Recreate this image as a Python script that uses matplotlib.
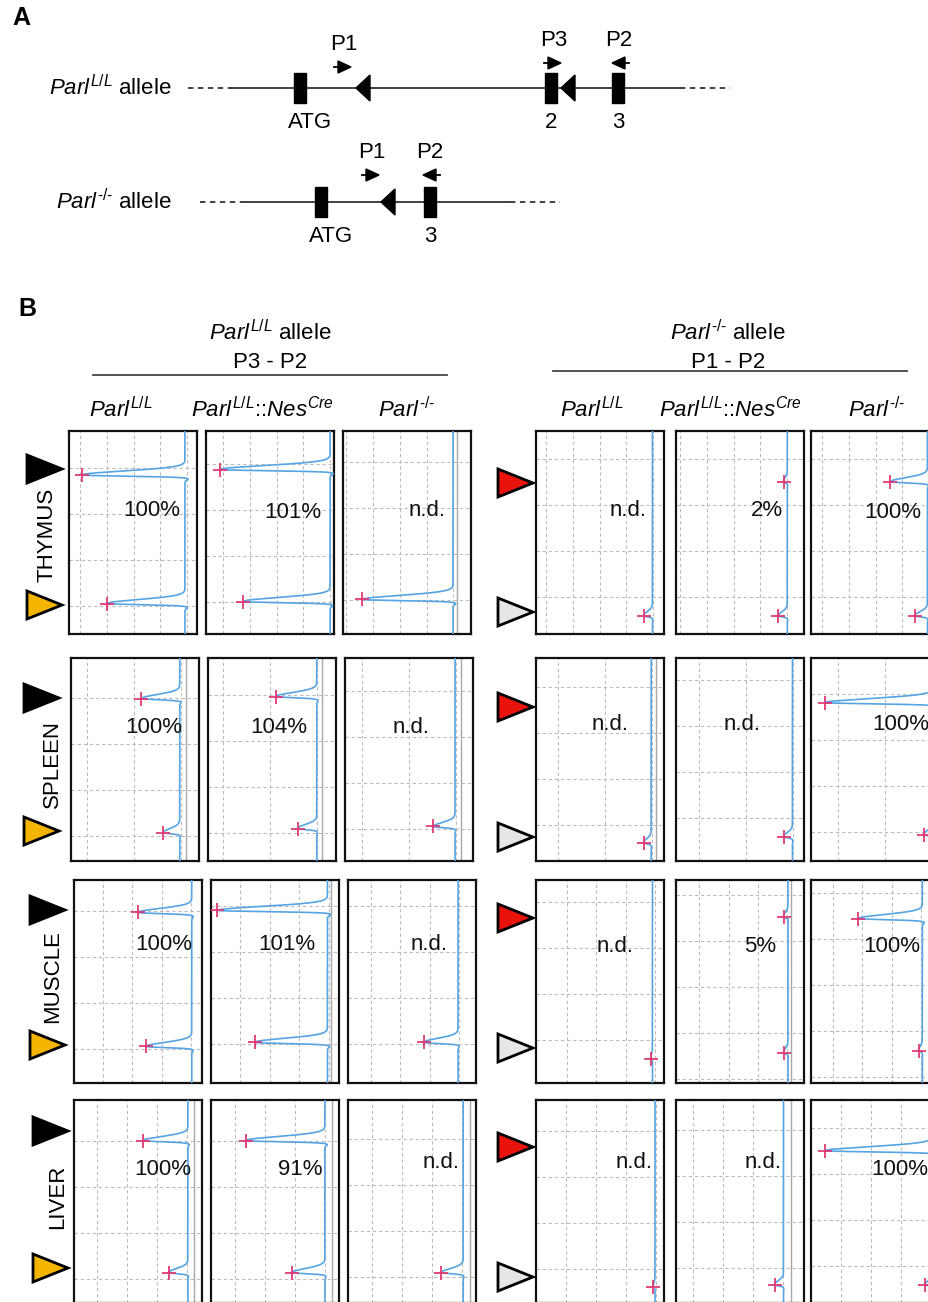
import numpy as np
import matplotlib
matplotlib.use("Agg")
import matplotlib.pyplot as plt
from matplotlib.patches import Polygon, Rectangle

plt.rcParams['font.family'] = ['Liberation Sans', 'DejaVu Sans']
plt.rcParams['mathtext.fontset'] = 'custom'
plt.rcParams['mathtext.rm'] = 'Liberation Sans'
plt.rcParams['mathtext.it'] = 'Liberation Sans:italic'

W, H = 929, 1302

# ---------------- data ----------------
tissues = ['THYMUS', 'SPLEEN', 'MUSCLE', 'LIVER']
genotypes = [r'$Parl^{L/L}$', r'$Parl^{L/L}\text{::}Nes^{Cre}$', r'$Parl^{\text{-/-}}$']

# percentages printed in each trace (left block P3-P2, right block P1-P2)
values_p3p2 = [['100%', '101%', 'n.d.'],
               ['100%', '104%', 'n.d.'],
               ['100%', '101%', 'n.d.'],
               ['100%', '91%', 'n.d.']]
values_p1p2 = [['n.d.', '2%', '100%'],
               ['n.d.', 'n.d.', '100%'],
               ['n.d.', '5%', '100%'],
               ['n.d.', 'n.d.', '100%']]

# traces: signal baseline and peak tips (fraction of panel width),
# peak migration position (fraction of panel height), None = no peak
baseline = [[0.906, 0.97, 0.86, 0.91, 0.87, 0.91],
            [0.85, 0.85, 0.86, 0.90, 0.91, 0.95],
            [0.92, 0.91, 0.86, 0.91, 0.875, 0.87],
            [0.89, 0.89, 0.90, 0.93, 0.84, 0.95]]
top_tip = [[0.10, 0.11, None, None, 0.84, 0.62],
           [0.55, 0.53, None, None, None, 0.11],
           [0.50, 0.05, None, None, 0.84, 0.37],
           [0.54, 0.27, None, None, None, 0.11]]
top_pos = [[0.217, 0.19, None, None, 0.25, 0.25],
           [0.20, 0.19, None, None, None, 0.22],
           [0.16, 0.15, None, None, 0.18, 0.19],
           [0.20, 0.20, None, None, None, 0.25]]
bot_tip = [[0.30, 0.29, 0.15, 0.84, 0.80, 0.81],
           [0.72, 0.70, 0.69, 0.84, 0.84, 0.88],
           [0.56, 0.34, 0.59, 0.895, 0.84, 0.84],
           [0.74, 0.63, 0.73, 0.915, 0.77, 0.89]]
bot_pos = [[0.85, 0.84, 0.83, 0.91, 0.91, 0.91],
           [0.86, 0.84, 0.83, 0.91, 0.88, 0.87],
           [0.82, 0.80, 0.80, 0.88, 0.85, 0.84],
           [0.85, 0.85, 0.85, 0.92, 0.91, 0.91]]

# panel A: gene structure
floxed_exons = [300, 551, 618]
floxed_exon_names = ['ATG', '2', '3']
floxed_lox = [356, 561]
floxed_primers = [('P1', 334, 67, 1), ('P3', 544, 63, 1), ('P2', 629, 63, -1)]
deleted_exons = [321, 430]
deleted_exon_names = ['ATG', '3']
deleted_lox = [381]
deleted_primers = [('P1', 362, 175, 1), ('P2', 440, 175, -1)]

# ---------------- layout (pixels) ----------------
PW, PH = 128, 203
left_x = [69, 71, 74, 74]
left_dx = [0, 137, 274]
right_x = [536, 676, 811]
row_y = [431, 658, 880, 1100]
grid_xstep = [26.8, 47, 29.5, 30]
grid_x0 = [[11, 17, 30, 10, 4, 11],
           [16, 15, 17, 22, 23, 27],
           [29, 29, 23, 31, 23, 22],
           [23, 24, 24, 30, 17, 30]]
grid_y0 = [[37, 33, 31, 28, 28, 28],
           [40, 37, 33, 29, 22, 36],
           [31, 26, 26, 22, 15, 13],
           [41, 41, 39, 31, 30, 28]]
rule_dx = [[None, None, 4, None, None, None],
           [6, 5, 6, 5, None, None],
           [None, 4, None, None, 3, None],
           [6, 7, 7, None, 7, None]]
text_xy = [[(0.65, 0.39), (0.68, 0.40), (0.66, 0.39), (0.72, 0.39), (0.71, 0.39), (0.64, 0.40)],
           [(0.65, 0.34), (0.55, 0.34), (0.52, 0.34), (0.58, 0.33), (0.52, 0.33), (0.70, 0.33)],
           [(0.70, 0.32), (0.59, 0.32), (0.63, 0.32), (0.62, 0.33), (0.66, 0.33), (0.63, 0.33)],
           [(0.69, 0.34), (0.70, 0.34), (0.73, 0.31), (0.77, 0.31), (0.68, 0.31), (0.69, 0.34)]]
tri_left = [(469, 605), (698, 831), (910, 1045), (1131, 1268)]
tri_left_x = [27, 24, 30, 33]
tri_right = [(483, 612), (707, 837), (918, 1048), (1147, 1277)]
label_xy = [(47, 535), (52, 764), (53, 977), (58, 1197)]

BLUE = '#55a4e3'
PINK = '#e23a74'
FS = 16

fig = plt.figure(figsize=(W / 100, H / 100), dpi=100)
canvas = fig.add_axes([0, 0, 1, 1])
canvas.set_xlim(0, W)
canvas.set_ylim(H, 0)
canvas.axis('off')


def draw_allele(y, name, line_x, exons, exon_names, lox, primers):
    a, b, c, d = line_x
    canvas.plot([a, b], [y, y], color='#333333', lw=1.3, ls=(0, (3, 2.5)))
    canvas.plot([b, c], [y, y], color='#333333', lw=1.3)
    canvas.plot([c, d], [y, y], color='#333333', lw=1.3, ls=(0, (3, 2.5)))
    canvas.text(172, y, name, ha='right', va='center', fontsize=FS)
    for ex, lab in zip(exons, exon_names):
        canvas.add_patch(Rectangle((ex - 6, y - 15), 12, 30, color='black', zorder=3))
        canvas.text(ex + 10 if lab == 'ATG' else ex, y + 35, lab, ha='center', va='center', fontsize=FS)
    for lx in lox:
        canvas.add_patch(Polygon([(lx, y), (lx + 14, y - 13), (lx + 14, y + 13)],
                                 color='black', zorder=3))
    for lab, px, py, direction in primers:
        canvas.plot([px, px + 6 * direction], [py, py], color='black', lw=1.3)
        canvas.add_patch(Polygon([(px + 4 * direction, py - 6), (px + 4 * direction, py + 6),
                                  (px + 17 * direction, py)], color='black'))
        canvas.text(px + 10 * direction, py - 23, lab, ha='center', va='center', fontsize=FS)


# ---- panel A ----
canvas.text(12, 18, 'A', fontsize=18, fontweight='bold', va='center')
draw_allele(88, r'$Parl^{L/L}$ allele', (188, 232, 680, 730),
            floxed_exons, floxed_exon_names, floxed_lox, floxed_primers)
draw_allele(202, r'$Parl^{\text{-/-}}$ allele', (200, 245, 510, 560),
            deleted_exons, deleted_exon_names, deleted_lox, deleted_primers)

# ---- panel B headers ----
canvas.text(18, 309, 'B', fontsize=18, fontweight='bold', va='center')
for cx, x0, x1, ly, title, primers in [(270, 93, 447, 375, r'$Parl^{L/L}$ allele', 'P3 - P2'),
                                        (728, 553, 907, 371, r'$Parl^{\text{-/-}}$ allele', 'P1 - P2')]:
    canvas.text(cx, 333, title, ha='center', va='center', fontsize=FS)
    canvas.text(cx, 362, primers, ha='center', va='center', fontsize=FS)
    canvas.plot([x0, x1], [ly, ly], color='#444444', lw=1.3)
for cx, g in zip([121, 262, 407, 592, 730, 877], genotypes * 2):
    canvas.text(cx, 410, g, ha='center', va='center', fontsize=FS)

# row labels and arrowheads
for r in range(4):
    lx, ly = label_xy[r]
    canvas.text(lx, ly, tissues[r], rotation=90, ha='center', va='center', fontsize=FS)
    tx = tri_left_x[r]
    for ty, col in zip(tri_left[r], ['black', '#f4b400']):
        canvas.add_patch(Polygon([(tx, ty - 14), (tx, ty + 14), (tx + 35, ty)],
                                 facecolor=col, edgecolor='black', lw=2, joinstyle='miter'))
    for ty, col in zip(tri_right[r], ['#e8140c', '#e6e6e6']):
        canvas.add_patch(Polygon([(498, ty - 14), (498, ty + 14), (533, ty)],
                                 facecolor=col, edgecolor='black', lw=2, joinstyle='miter'))

y_grid = np.linspace(0, 1, 4001)

for r in range(4):
    for c in range(6):
        x0 = left_x[r] + left_dx[c] if c < 3 else right_x[c - 3]
        y0 = row_y[r]
        ax = fig.add_axes([x0 / W, 1 - (y0 + PH) / H, PW / W, PH / H])
        ax.set_xlim(0, 1)
        ax.set_ylim(1, 0)
        ax.set_xticks([])
        ax.set_yticks([])
        for s in ax.spines.values():
            s.set_linewidth(1.6)
            s.set_color('#111111')

        # dashed grid
        gx = grid_x0[r][c]
        while gx - grid_xstep[r] > 2:
            gx -= grid_xstep[r]
        while gx < PW - 3:
            ax.axvline(gx / PW, color='#bcbcbc', lw=0.8, ls=(0, (3, 2.5)), zorder=1)
            gx += grid_xstep[r]
        gy = grid_y0[r][c]
        while gy < PH - 3:
            ax.axhline(gy / PH, color='#bcbcbc', lw=0.8, ls=(0, (3, 2.5)), zorder=1)
            gy += 46

        base = baseline[r][c]
        if rule_dx[r][c] is not None:
            ax.axvline(base + rule_dx[r][c] / PW, color='#a8a8a8', lw=1.0, zorder=2)

        sig = np.full_like(y_grid, base)
        for tip, pos in [(top_tip[r][c], top_pos[r][c]), (bot_tip[r][c], bot_pos[r][c])]:
            if tip is None:
                continue
            amp = base - tip
            d = y_grid - pos
            s = np.where(d < 0, 0.028, 0.0075)
            sig = sig - amp * np.exp(-(d / s) ** 2)
            sig = sig + 0.03 * amp * np.exp(-((d - 0.02) / 0.008) ** 2)
        ax.plot(sig, y_grid, color=BLUE, lw=1.2, zorder=3)
        for tip, pos in [(top_tip[r][c], top_pos[r][c]), (bot_tip[r][c], bot_pos[r][c])]:
            if tip is not None:
                ax.plot(tip, pos, marker='+', color=PINK, ms=10, mew=1.3, zorder=4)

        txt = values_p3p2[r][c] if c < 3 else values_p1p2[r][c - 3]
        tx, ty = text_xy[r][c]
        ax.text(tx, ty, txt, ha='center', va='center', fontsize=FS, color='#111111', zorder=5)

fig.savefig('out.png', dpi=100, facecolor='white')
